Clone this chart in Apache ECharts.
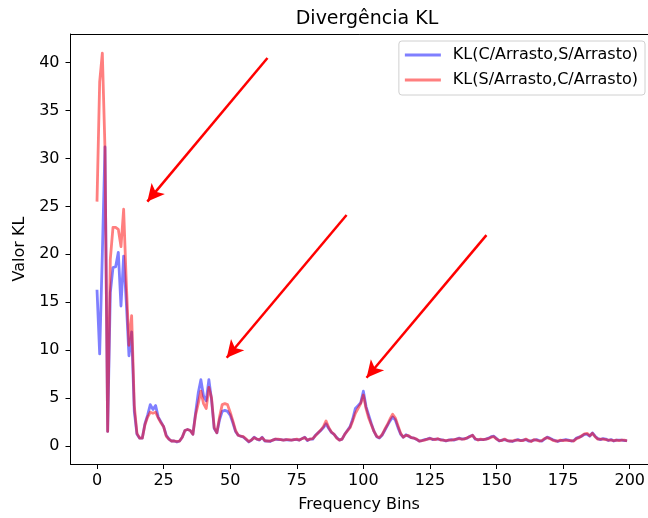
<!DOCTYPE html>
<html>
<head>
<meta charset="utf-8">
<script src="https://cdn.jsdelivr.net/npm/echarts@6/dist/echarts.min.js"></script>
<style>html,body{margin:0;padding:0;background:#fff;}#c{width:648px;height:518px;}</style>
</head>
<body>
<div id="c"></div>
<script>
const titleText = 'Divergência KL';
const xName = 'Frequency Bins';
const yName = 'Valor KL';
const seriesNames = ['KL(C/Arrasto,S/Arrasto)', 'KL(S/Arrasto,C/Arrasto)'];
const xTicks = [0, 25, 50, 75, 100, 125, 150, 175, 200];
const yTicks = [0, 5, 10, 15, 20, 25, 30, 35, 40];

const klCS = [
16.3,9.6,20.0,31.2,1.5,16.0,18.6,18.7,20.2,14.6,19.8,15.0,9.4,11.9,3.6,1.2,0.8,0.8,2.3,3.2,
4.3,3.8,4.2,3.0,2.5,2.0,1.1,0.7,0.5,0.5,0.4,0.5,0.9,1.6,1.7,1.6,1.2,3.4,5.5,6.9,
5.2,4.7,6.9,4.8,1.8,1.35,2.7,3.6,3.7,3.6,3.2,2.4,1.5,1.1,1.0,0.9,0.65,0.4,0.6,0.9,
0.7,0.6,0.9,0.5,0.5,0.45,0.6,0.7,0.65,0.65,0.6,0.65,0.6,0.6,0.65,0.65,0.6,0.75,0.9,0.55,
0.7,0.7,1.1,1.35,1.6,1.9,2.3,1.8,1.4,1.2,0.85,0.6,0.7,1.2,1.6,2.0,2.8,3.9,4.2,4.5,
5.7,4.1,3.2,2.3,1.5,0.95,0.8,1.1,1.6,2.1,2.6,3.0,2.7,1.9,1.2,0.9,1.15,1.0,0.85,0.8,
0.65,0.5,0.55,0.65,0.7,0.8,0.65,0.7,0.7,0.65,0.6,0.5,0.6,0.65,0.6,0.7,0.8,0.7,0.75,0.8,
1.0,1.1,0.7,0.65,0.65,0.65,0.7,0.8,0.95,1.0,0.75,0.5,0.6,0.65,0.55,0.5,0.45,0.55,0.65,0.55,
0.6,0.65,0.5,0.5,0.6,0.65,0.55,0.5,0.7,0.9,0.8,0.65,0.55,0.45,0.55,0.6,0.65,0.6,0.5,0.55,
0.8,0.9,1.0,1.2,1.2,1.0,1.35,1.0,0.75,0.65,0.75,0.7,0.55,0.65,0.5,0.6,0.6,0.6,0.55,0.55
];

const klSC = [
25.5,38.0,41.0,31.0,1.5,19.5,22.8,22.8,22.6,20.8,24.7,17.0,10.5,13.6,4.2,1.3,0.8,0.8,2.2,3.0,
3.5,3.4,3.5,2.9,2.4,2.0,1.0,0.7,0.5,0.5,0.45,0.5,0.9,1.6,1.7,1.6,1.2,3.2,4.4,5.7,
4.4,3.9,6.1,5.0,1.9,1.35,3.0,4.3,4.4,4.3,3.5,2.6,1.6,1.1,1.0,0.95,0.7,0.45,0.6,0.85,
0.7,0.65,0.85,0.55,0.5,0.5,0.6,0.7,0.7,0.65,0.6,0.65,0.65,0.6,0.65,0.7,0.6,0.75,0.85,0.6,
0.7,0.75,1.05,1.35,1.65,2.0,2.6,1.9,1.45,1.2,0.8,0.6,0.7,1.2,1.55,1.9,2.6,3.4,3.9,4.4,
5.3,3.9,2.9,2.2,1.5,1.0,0.85,1.15,1.7,2.2,2.8,3.3,2.9,2.1,1.3,0.9,1.1,1.05,0.85,0.8,
0.7,0.5,0.55,0.6,0.7,0.75,0.7,0.65,0.75,0.6,0.6,0.55,0.6,0.6,0.65,0.7,0.75,0.7,0.7,0.85,
0.95,1.1,0.75,0.6,0.7,0.65,0.7,0.75,0.9,0.95,0.7,0.55,0.55,0.7,0.55,0.5,0.5,0.6,0.6,0.55,
0.55,0.7,0.55,0.45,0.65,0.6,0.5,0.55,0.75,0.85,0.75,0.6,0.5,0.5,0.6,0.55,0.6,0.55,0.55,0.5,
0.75,0.85,1.05,1.25,1.3,1.05,1.3,0.95,0.7,0.7,0.7,0.65,0.6,0.6,0.55,0.6,0.55,0.6,0.6,0.5
];

// annotation arrows: [tailX, tailY, tipX, tipY] in data units
const arrows = [
  [64.0, 40.5, 18.9, 25.5],
  [93.7, 24.1, 48.7, 9.2],
  [146.2, 22.0, 101.2, 7.1]
];

const bins = klCS.map((_, i) => i);
const FONT = 'DejaVu Sans';

const chart = echarts.init(document.getElementById('c'), null, {renderer: 'canvas'});

const axisText = {color: '#000', fontFamily: FONT, fontSize: 16};

const option = {
  animation: false,
  backgroundColor: '#fff',
  title: {
    text: titleText,
    left: 362, top: 5, textAlign: 'center',
    textStyle: {fontFamily: FONT, fontSize: 19, fontWeight: 'normal', color: '#000'}
  },
  legend: {
    orient: 'vertical',
    right: 3, top: 41,
    data: seriesNames,
    icon: 'rect',
    itemWidth: 36, itemHeight: 3,
    itemGap: 7,
    padding: [5, 7, 6, 6],
    backgroundColor: 'rgba(255,255,255,0.8)',
    borderColor: '#d0d0d0', borderWidth: 1, borderRadius: 3,
    textStyle: {fontFamily: FONT, fontSize: 16, color: '#000', lineHeight: 18, padding: [0, 0, 0, 7]}
  },
  grid: {left: 70.5, right: 0, top: 34, bottom: 52},
  xAxis: [{
    type: 'value', min: -9.95, max: 206.75,
    name: xName, nameLocation: 'middle', nameGap: 33,
    nameTextStyle: axisText,
    axisLine: {show: true, onZero: false, lineStyle: {color: '#000', width: 1}},
    axisTick: {show: true, length: 5, lineStyle: {color: '#000'}, customValues: xTicks},
    axisLabel: Object.assign({customValues: xTicks, margin: 9}, axisText),
    splitLine: {show: false}
  }, {
    type: 'value', min: -9.95, max: 206.75, position: 'top',
    axisLine: {show: true, onZero: false, lineStyle: {color: '#000', width: 1}},
    axisTick: {show: false}, axisLabel: {show: false}, splitLine: {show: false}
  }],
  yAxis: {
    type: 'value', min: -1.9, max: 43.0,
    name: yName, nameLocation: 'middle', nameGap: 36,
    nameTextStyle: axisText,
    axisLine: {show: true, onZero: false, lineStyle: {color: '#000', width: 1}},
    axisTick: {show: true, length: 5, lineStyle: {color: '#000'}, customValues: yTicks},
    axisLabel: Object.assign({customValues: yTicks, margin: 11}, axisText),
    splitLine: {show: false}
  },
  series: [{
    name: seriesNames[0], type: 'line',
    data: bins.map(i => [i, klCS[i]]),
    showSymbol: false, symbol: 'none',
    color: 'rgba(0,0,255,0.5)',
    lineStyle: {width: 2.8, color: 'rgba(0,0,255,0.5)', join: 'round'},
    z: 2
  }, {
    name: seriesNames[1], type: 'line',
    data: bins.map(i => [i, klSC[i]]),
    showSymbol: false, symbol: 'none',
    color: 'rgba(255,0,0,0.5)',
    lineStyle: {width: 2.8, color: 'rgba(255,0,0,0.5)', join: 'round'},
    z: 3,
    markLine: {
      silent: true,
      symbol: ['none', 'arrow'],
      symbolSize: [13, 17],
      label: {show: false},
      lineStyle: {color: '#ff0000', width: 2.5, type: 'solid', opacity: 1},
      itemStyle: {color: '#ff0000'},
      data: arrows.map(a => [{coord: [a[0], a[1]]}, {coord: [a[2], a[3]]}])
    }
  }]
};
chart.setOption(option);
</script>
</body>
</html>
